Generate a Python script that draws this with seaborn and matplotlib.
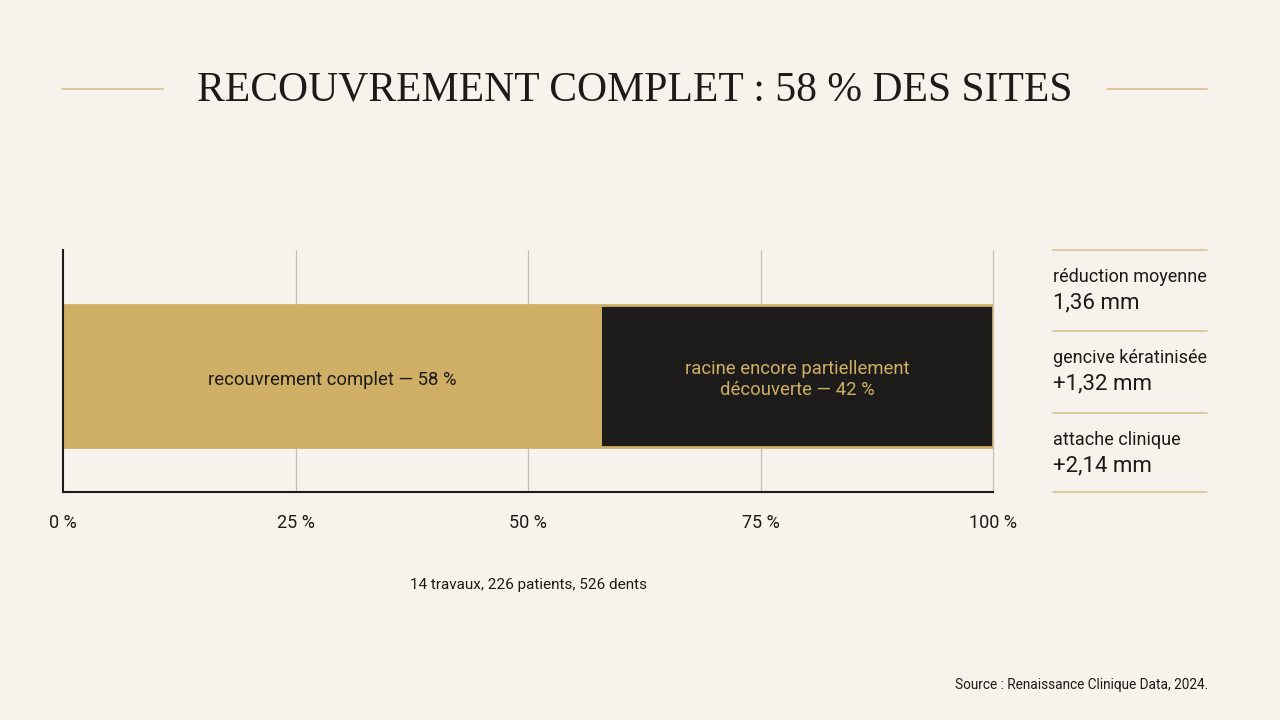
import numpy as np
import pandas as pd
import matplotlib
matplotlib.use("Agg")
import matplotlib.pyplot as plt
import seaborn as sns
from matplotlib.lines import Line2D

# ---- data ----
title = "RECOUVREMENT COMPLET : 58 % DES SITES"
segment_names = ["recouvrement complet", "racine encore partiellement découverte"]
segment_values = [58, 42]
segment_labels = ["recouvrement complet — 58 %", "racine encore partiellement\ndécouverte — 42 %"]
x_ticks = [0, 25, 50, 75, 100]
x_tick_labels = ["0 %", "25 %", "50 %", "75 %", "100 %"]
metric_labels = ["réduction moyenne", "gencive kératinisée", "attache clinique"]
metric_values = ["1,36 mm", "+1,32 mm", "+2,14 mm"]
footnote = "14 travaux, 226 patients, 526 dents"
source = "Source : Renaissance Clinique Data, 2024."

BG = "#F7F3EC"
GOLD = "#CFAE66"
DARK = "#1D1C1A"
INK = "#1C1B19"
GRID = "#C4C0B8"
RULE = "#D8C08C"

sns.set_theme(style="white")
plt.rcParams["font.family"] = ["Roboto", "DejaVu Sans"]

fig = plt.figure(figsize=(12.8, 7.2), dpi=100, facecolor=BG)
ax = fig.add_axes([63/1280, 1-492/720, 930/1280, 242/720])
ax.set_facecolor(BG)

cum = np.cumsum(segment_values)
df = pd.DataFrame({"cat": ["site"] * len(segment_values),
                   "end": cum,
                   "name": segment_names})
colors = [GOLD, DARK]
for i in range(len(segment_values) - 1, -1, -1):
    sub = df.iloc[[i]]
    sns.barplot(data=sub, x="end", y="cat", orient="h", ax=ax,
                color=colors[i], width=0.8, saturation=1,
                edgecolor=GOLD, linewidth=2 if i > 0 else 0,
                zorder=3 + (len(segment_values) - i))

ax.set_ylim(0.654, -0.71)
ax.set_xlim(0, 100)
ax.set_xticks(x_ticks)
ax.set_xticklabels(x_tick_labels, fontsize=13, color=INK)
ax.tick_params(axis="x", length=0, pad=16)
ax.set_yticks([])
ax.set_xlabel("")
ax.set_ylabel("")
for xv in x_ticks[1:]:
    ax.axvline(xv, color=GRID, lw=0.9, zorder=1, clip_on=False)
for s in ["top", "right"]:
    ax.spines[s].set_visible(False)
for s in ["left", "bottom"]:
    ax.spines[s].set_color(INK)
    ax.spines[s].set_linewidth(1.5)
    ax.spines[s].set_zorder(10)

# segment labels
starts = np.concatenate([[0], cum[:-1]])
label_colors = [INK, GOLD]
for st, v, lab, c in zip(starts, segment_values, segment_labels, label_colors):
    ax.text(st + v / 2, 0.02, lab, ha="center", va="center",
            fontsize=13.3, color=c, linespacing=1.25, zorder=10)

# title with rules
fig.text(635/1280, 1-90/720, title, ha="center", va="center",
         fontsize=30, color=INK, family=["Liberation Serif", "DejaVu Serif"])
fig.add_artist(Line2D([62/1280, 163/1280], [1-89/720]*2, color=RULE, lw=1.2))
fig.add_artist(Line2D([1107/1280, 1207/1280], [1-89/720]*2, color=RULE, lw=1.2))

# metrics panel
rule_ys = [250, 331, 413, 492]
for y in rule_ys:
    fig.add_artist(Line2D([1053/1280, 1207/1280], [1-y/720]*2, color=RULE, lw=1.1))
for k, (lab, val) in enumerate(zip(metric_labels, metric_values)):
    y0 = rule_ys[k]
    fig.text(1053/1280, 1-(y0+27)/720, lab, ha="left", va="center", fontsize=13, color=INK)
    fig.text(1053/1280, 1-(y0+53)/720, val, ha="left", va="center", fontsize=16, color=INK)

fig.text(529/1280, 1-585/720, footnote, ha="center", va="center", fontsize=11, color=INK)
fig.text(1208/1280, 1-685/720, source, ha="right", va="center", fontsize=9.8, color=INK)

fig.savefig("out.png", dpi=100, facecolor=BG)
